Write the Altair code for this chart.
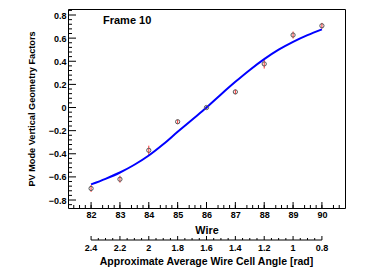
import altair as alt
import pandas as pd

# ---- data ----
wires = [82, 83, 84, 85, 86, 87, 88, 89, 90]
factors = [-0.70, -0.62, -0.37, -0.123, 0.0, 0.135, 0.377, 0.627, 0.707]
errors = [0.03, 0.03, 0.04, 0.018, 0.012, 0.02, 0.04, 0.03, 0.025]

fit_wire = [82, 82.5, 83, 83.5, 84, 84.5, 85, 85.5, 86, 86.5, 87, 87.5, 88, 88.5, 89, 89.5, 90]
fit_value = [-0.665, -0.617, -0.562, -0.495, -0.415, -0.318, -0.21, -0.105, 0.0,
             0.113, 0.222, 0.325, 0.418, 0.50, 0.568, 0.626, 0.676]

wire_major = [82, 83, 84, 85, 86, 87, 88, 89, 90]
y_major = [-0.8, -0.6, -0.4, -0.2, 0.0, 0.2, 0.4, 0.6, 0.8]
angle_major = [2.4, 2.2, 2.0, 1.8, 1.6, 1.4, 1.2, 1.0, 0.8]
angle_labels = ["2.4", "2.2", "2", "1.8", "1.6", "1.4", "1.2", "1", "0.8"]

label_text = "Frame 10"
x_title = "Wire"
y_title = "PV Mode Vertical Geometry Factors"
angle_title = "Approximate Average Wire Cell Angle [rad]"

# minor tick positions
wire_minor = [round(81.2 + 0.2 * i, 2) for i in range(1, 48) if (i - 1) % 5 != 4]
y_minor = [round(-0.84 + 0.04 * i, 2) for i in range(0, 43) if i % 5 != 1]
angle_minor = [round(0.8 + 0.05 * i, 2) for i in range(1, 32) if i % 4 != 0]

FONT = "Liberation Sans"
W, H = 277, 199
X_DOM = [81.2, 90.8]
Y_DOM = [-0.869, 0.852]
ANG_OFF = 32

xs = alt.Scale(domain=X_DOM, nice=False, zero=False)
ys = alt.Scale(domain=Y_DOM, nice=False, zero=False)

# angle axis is linear in wire: angle_major[0] at wire_major[0], angle_major[-1] at wire_major[-1]
A0, W0 = angle_major[0], wire_major[0]
STEP = (angle_major[0] - angle_major[-1]) / (wire_major[-1] - wire_major[0])
to_wire = f"{W0} + ({A0} - datum.a) / {STEP}"

pts = pd.DataFrame({
    "wire": wires,
    "value": factors,
    "lo": [v - e for v, e in zip(factors, errors)],
    "hi": [v + e for v, e in zip(factors, errors)],
})
fit = pd.DataFrame({"wire": fit_wire, "value": fit_value})

wire_axis = alt.Axis(values=wire_major, format="d", ticks=False, domain=False, labelFlush=False,
                     labelPadding=2, titlePadding=5, titleFontSize=10.8, orient="bottom")
y_axis = alt.Axis(values=y_major, format="~g", ticks=False, domain=False, labelFlush=False,
                  labelPadding=2, titlePadding=12, titleFontSize=9.2, orient="left")


def X(field):
    return alt.X(field, scale=xs, axis=wire_axis, title=x_title)


def Y(field):
    return alt.Y(field, scale=ys, axis=y_axis, title=y_title)


ymaj = alt.Chart(pd.DataFrame({"v": y_major})).mark_rule(color="black", strokeWidth=1).encode(
    y=Y("v:Q"), x=alt.value(0), x2=alt.value(8),
)
ymin = alt.Chart(pd.DataFrame({"v": y_minor})).mark_rule(color="black", strokeWidth=1).encode(
    y=Y("v:Q"), x=alt.value(0), x2=alt.value(4),
)

err = alt.Chart(pts).mark_rule(color="#ff3030", strokeWidth=1).encode(
    x=X("wire:Q"), y=Y("lo:Q"), y2="hi:Q",
)
line = alt.Chart(fit).mark_line(color="#0000ff", strokeWidth=2, interpolate="monotone").encode(
    x=X("wire:Q"), y=Y("value:Q"),
)
marks = alt.Chart(pts).mark_point(shape="circle", filled=False, size=18,
                                  stroke="#555555", strokeWidth=1, opacity=1).encode(
    x=X("wire:Q"), y=Y("value:Q"),
)


def xticks(vals, length):
    return alt.Chart(pd.DataFrame({"v": vals})).mark_rule(color="black", strokeWidth=1).encode(
        x=X("v:Q"), y=alt.value(H - length), y2=alt.value(H),
    )


text = alt.Chart(pd.DataFrame({"t": [label_text]})).mark_text(
    align="left", baseline="middle", fontSize=11, fontWeight="bold", font=FONT, color="black"
).encode(x=alt.value(35), y=alt.value(12), text="t:N")


# ---- secondary (angle) axis drawn with the wire scale ----
def angle_ticks(vals, length):
    return alt.Chart(pd.DataFrame({"a": vals})).transform_calculate(w=to_wire).mark_rule(
        color="black", strokeWidth=1).encode(
        x=X("w:Q"), y=alt.value(H + ANG_OFF - length), y2=alt.value(H + ANG_OFF),
    )


ang_line = alt.Chart(pd.DataFrame({"a": [angle_major[0]], "b": [angle_major[-1]]})).transform_calculate(
    w=to_wire, w2=to_wire.replace("datum.a", "datum.b")).mark_rule(color="black", strokeWidth=1).encode(
    x=X("w:Q"), x2="w2:Q", y=alt.value(H + ANG_OFF),
)
ang_text = alt.Chart(pd.DataFrame({"a": angle_major, "lab": angle_labels})).transform_calculate(
    w=to_wire).mark_text(align="center", baseline="middle", fontSize=9, fontWeight="bold",
                         font=FONT, color="black").encode(
    x=X("w:Q"), y=alt.value(H + ANG_OFF + 8), text="lab:N",
)
ang_title = alt.Chart(pd.DataFrame({"t": [angle_title]})).mark_text(
    align="center", baseline="middle", fontSize=10.5, fontWeight="bold", font=FONT, color="black"
).encode(x=alt.value(W / 2), y=alt.value(H + ANG_OFF + 22), text="t:N")

chart = alt.layer(
    ymaj, ymin,
    err,
    xticks(wire_minor, 3), xticks(wire_major, 6),
    line, marks, text,
    angle_ticks(angle_minor, 2), angle_ticks(angle_major, 4), ang_line, ang_text, ang_title,
).properties(
    width=W, height=H,
    autosize=alt.AutoSizeParams(type="none"),
    padding={"left": 60, "top": 1, "right": 10, "bottom": 62},
).configure_view(stroke="black", strokeWidth=1).configure_axis(
    grid=False,
    labelFont=FONT, labelFontSize=9, labelFontWeight="bold", labelColor="black",
    titleFont=FONT, titleFontSize=10.5, titleFontWeight="bold", titleColor="black",
)

chart.save("out.html", embed_options={"renderer": "svg", "actions": False})
